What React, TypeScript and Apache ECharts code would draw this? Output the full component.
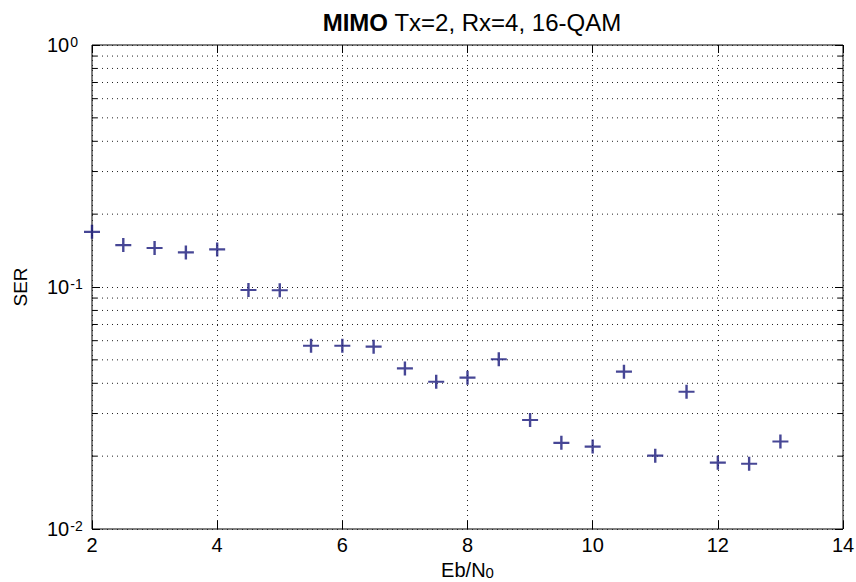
import React, { useEffect, useRef } from "react";
import * as echarts from "echarts";

const ebN0 = [2, 2.5, 3, 3.5, 4, 4.5, 5, 5.5, 6, 6.5, 7, 7.5, 8, 8.5, 9, 9.5, 10, 10.5, 11, 11.5, 12, 12.5, 13];
const ser = [0.169, 0.149, 0.145, 0.139, 0.143, 0.0972, 0.097, 0.0572, 0.0572, 0.0567, 0.0461, 0.0406, 0.0422, 0.0503, 0.0282, 0.0227, 0.0219, 0.0447, 0.0201, 0.0369, 0.0188, 0.0186, 0.023];
const minorY = [0.02, 0.03, 0.04, 0.05, 0.06, 0.07, 0.08, 0.09, 0.2, 0.3, 0.4, 0.5, 0.6, 0.7, 0.8, 0.9];
const titleBold = "MIMO";
const titleRest = " Tx=2, Rx=4, 16-QAM";

const FONT = "'Liberation Sans', Arial, Helvetica, sans-serif";
const PLUS = "path://M6.8,0H9.2V6.8H16V9.2H9.2V16H6.8V9.2H0V6.8H6.8Z";

export default function App() {
  const ref = useRef<HTMLDivElement>(null);
  useEffect(() => {
    if (!ref.current) return;
    const chart = echarts.init(ref.current, null, { renderer: "svg" });
    const dotted = { color: "#222", width: 1, type: [1, 4] as any };
    chart.setOption({
      animation: false,
      backgroundColor: "#fff",
      title: {
        text: `{b|${titleBold}}{r|${titleRest}}`,
        left: 467,
        textAlign: "center",
        top: 5,
        textStyle: {
          fontWeight: "normal",
          rich: {
            b: { fontFamily: FONT, fontSize: 24, fontWeight: "bold", color: "#000" },
            r: { fontFamily: FONT, fontSize: 24, fontWeight: "normal", color: "#000" },
          },
        },
      },
      grid: {
        left: 92,
        right: 13,
        top: 45,
        bottom: 53,
        outerBoundsMode: "none",
        containLabel: false,
        show: true,
        borderColor: "#000",
        borderWidth: 1,
        backgroundColor: "transparent",
      },
      xAxis: [
        {
          type: "value",
          min: 2,
          max: 14,
          interval: 2,
          position: "bottom",
          axisLine: { show: false },
          axisTick: { show: true, inside: true, length: 8, lineStyle: { color: "#000" } },
          axisLabel: { color: "#000", fontFamily: FONT, fontSize: 20, margin: 6 },
          splitLine: { show: true, lineStyle: dotted },
          name: "{n|Eb/N}{s|0}",
          nameLocation: "middle",
          nameGap: 41,
          nameMoveOverlap: false,
          nameTextStyle: {
            verticalAlign: "middle",
            rich: {
              n: { fontFamily: FONT, fontSize: 20, color: "#000", lineHeight: 20, verticalAlign: "middle" },
              s: { fontFamily: FONT, fontSize: 15, color: "#000", lineHeight: 12, padding: [20, 0, 0, 0], verticalAlign: "bottom" },
            },
          },
        },
        {
          type: "value",
          min: 2,
          max: 14,
          interval: 2,
          position: "top",
          axisLine: { show: false },
          axisTick: { show: true, inside: true, length: 8, lineStyle: { color: "#000" } },
          axisLabel: { show: false },
          splitLine: { show: false },
        },
      ],
      yAxis: [
        {
          type: "log",
          logBase: 10,
          min: 0.01,
          max: 1,
          position: "left",
          axisLine: { show: false },
          axisTick: { show: true, inside: true, length: 8, lineStyle: { color: "#000" } },
          axisLabel: {
            color: "#000",
            align: "left",
            margin: 45,
            formatter: (v: number) => `{b|10}{s|${Math.round(Math.log10(v))}}`,
            rich: {
              b: { fontFamily: FONT, fontSize: 20, color: "#000", lineHeight: 20, verticalAlign: "middle" },
              s: { fontFamily: FONT, fontSize: 14, color: "#000", lineHeight: 12, padding: [0, 0, 20, 1], verticalAlign: "top" },
            },
          },
          splitLine: { show: true, lineStyle: dotted },
          name: "SER",
          nameLocation: "middle",
          nameGap: 62,
          nameMoveOverlap: false,
          nameTextStyle: { fontFamily: FONT, fontSize: 19, color: "#000" },
        },
        {
          type: "log",
          logBase: 10,
          min: 0.01,
          max: 1,
          position: "right",
          axisLine: { show: false },
          axisTick: { show: true, inside: true, length: 8, lineStyle: { color: "#000" } },
          axisLabel: { show: false },
          splitLine: { show: false },
        },
      ],
      series: [
        {
          type: "custom",
          xAxisIndex: 0,
          yAxisIndex: 0,
          silent: true,
          clip: false,
          data: minorY.map((v) => [2, v]),
          renderItem: (params: any, api: any) => {
            const y = api.coord([2, api.value(1)])[1];
            const cs = params.coordSys;
            return {
              type: "group",
              children: [
                { type: "line", shape: { x1: cs.x, y1: y, x2: cs.x + cs.width, y2: y }, style: { stroke: "#222", lineWidth: 1, lineDash: [1, 4] } },
                { type: "line", shape: { x1: cs.x, y1: y, x2: cs.x + 5, y2: y }, style: { stroke: "#000", lineWidth: 1 } },
                { type: "line", shape: { x1: cs.x + cs.width - 5, y1: y, x2: cs.x + cs.width, y2: y }, style: { stroke: "#000", lineWidth: 1 } },
              ],
            };
          },
          z: 1,
        },
        {
          type: "scatter",
          xAxisIndex: 0,
          yAxisIndex: 0,
          data: ebN0.map((x, i) => [x, ser[i]]),
          symbol: PLUS,
          symbolSize: [16, 14],
          itemStyle: { color: "#18187a" },
          z: 5,
        },
      ],
    });
    return () => chart.dispose();
  }, []);
  return <div ref={ref} style={{ position: "absolute", left: 0, top: 0, width: 856, height: 582 }} />;
}
